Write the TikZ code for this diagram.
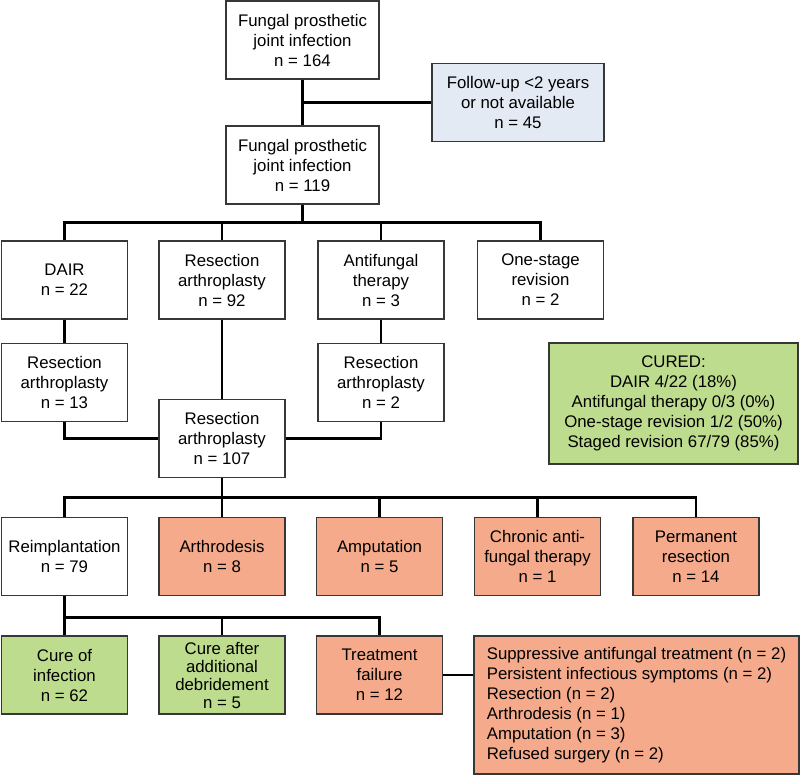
\documentclass[tikz,border=0pt]{standalone}
\usepackage{fontspec}
\setmainfont{Liberation Sans}
\usepackage{tikz}
\definecolor{followblue}{RGB}{228, 234, 244}
\definecolor{curegreen}{RGB}{190, 220, 141}
\definecolor{failsalmon}{RGB}{244, 170, 139}
\definecolor{boxline}{RGB}{55, 55, 55}

\begin{document}
\begin{tikzpicture}[x=1pt, y=-1pt,
    box/.style={draw=boxline, line width=1.3pt, align=center, inner sep=2pt,
      minimum width=126pt, minimum height=78pt,
      font=\fontsize{16.8}{20}\selectfont},
    link/.style={line width=2.8pt}]

\useasboundingbox (0,0) rectangle (800,775);

%% ── SCREENING ────────────────────────────────────────────────────────────────
\node[box, minimum width=153pt] (all) at (302.5,40)
  {Fungal prosthetic\\joint infection\\n = 164};
\node[box, fill=followblue, minimum width=172pt] (lost) at (518,102.5)
  {Follow-up <2 years\\or not available\\n = 45};
\node[box, minimum width=153pt] (incl) at (302.5,165)
  {Fungal prosthetic\\joint infection\\n = 119};

%% ── FIRST TREATMENT ──────────────────────────────────────────────────────────
\node[box] (dair)  at (64.5,280)  {DAIR\\n = 22};
\node[box] (res92) at (222,280)   {Resection\\arthroplasty\\n = 92};
\node[box] (anti)  at (381,280)   {Antifungal\\therapy\\n = 3};
\node[box] (one)   at (540.5,280) {One-stage\\revision\\n = 2};

\node[box] (res13) at (64.5,382.5) {Resection\\arthroplasty\\n = 13};
\node[box] (res2)  at (381,382.5)  {Resection\\arthroplasty\\n = 2};
\node[box] (res107) at (222,438.5) {Resection\\arthroplasty\\n = 107};

% summary of cure rates
\node[box, fill=curegreen, minimum width=249pt, minimum height=121pt]
  (cured) at (673.5,403.5)
  {CURED:\\DAIR 4/22 (18\%)\\Antifungal therapy 0/3 (0\%)\\
   One-stage revision 1/2 (50\%)\\Staged revision 67/79 (85\%)};

%% ── AFTER RESECTION ──────────────────────────────────────────────────────────
\node[box] (reimp) at (64.5,556.5) {Reimplantation\\n = 79};
\node[box, fill=failsalmon] (arthro) at (222,556.5)   {Arthrodesis\\n = 8};
\node[box, fill=failsalmon] (amput)  at (379.5,556.5) {Amputation\\n = 5};
\node[box, fill=failsalmon] (chron)  at (537.5,556.5)
  {Chronic anti-\\fungal therapy\\n = 1};
\node[box, fill=failsalmon] (perm)   at (696,556.5)
  {Permanent\\resection\\n = 14};

%% ── OUTCOME OF REIMPLANTATION ────────────────────────────────────────────────
\node[box, fill=curegreen] (cure) at (64.5,675) {Cure of\\infection\\n = 62};
\node[box, fill=curegreen, font=\fontsize{16.8}{18}\selectfont]
  (debr) at (222,675) {Cure after\\additional\\debridement\\n = 5};
\node[box, fill=failsalmon] (fail) at (379.5,675)
  {Treatment\\failure\\n = 12};
\node[box, fill=failsalmon, align=left,
      minimum width=325pt, minimum height=138pt] (detail) at (636.5,705)
  {Suppressive antifungal treatment (n = 2)\\
   Persistent infectious symptoms (n = 2)\\
   Resection (n = 2)\\Arthrodesis (n = 1)\\
   Amputation (n = 3)\\Refused surgery (n = 2)};

%% ── CONNECTORS ───────────────────────────────────────────────────────────────
\draw[link] (all) -- (incl);
\draw[link] (lost.west) -- (lost.west -| all.south);

\foreach \child in {dair, res92, anti, one}
  \draw[link] (incl.south) -- ++(0,18) -| (\child.north);

\draw[link] (dair) -- (res13);
\draw[link] (anti) -- (res2);
\draw[link] (res92) -- (res107);
\draw[link] (res13.south) |- (res107.west);
\draw[link] (res2.south) |- (res107.east);

\foreach \child in {reimp, arthro, amput, chron, perm}
  \draw[link] (res107.south) -- ++(0,19) -| (\child.north);

\foreach \child in {cure, debr, fail}
  \draw[link] (reimp.south) -- ++(0,21) -| (\child.north);

\draw[link] (fail.east) -- (fail.east -| detail.west);

\end{tikzpicture}
\end{document}
